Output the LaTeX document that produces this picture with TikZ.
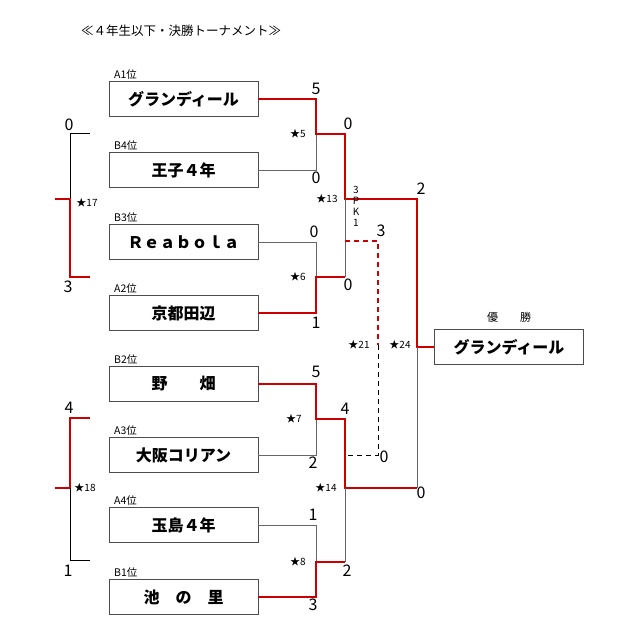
\documentclass[tikz,border=0pt]{standalone}
\usepackage{fontspec}
\setmainfont{Noto Sans CJK JP}
\definecolor{rr}{HTML}{CC0000}
\begin{document}
\begin{tikzpicture}[x=1pt,y=-1pt,
 team/.style={draw=black!70,line width=0.8pt,minimum width=149pt,minimum height=35pt,font=\fontsize{16}{16}\selectfont\bfseries,inner sep=0},
 lab/.style={font=\fontsize{10.5}{10.5}\selectfont,anchor=south west,inner sep=0},
 sc/.style={font=\fontsize{16}{16}\selectfont,inner sep=1pt},
 st/.style={font=\fontsize{10}{10}\selectfont,inner sep=1pt},
 g/.style={draw=black!60,line width=0.7pt},
 b/.style={draw=black,line width=0.7pt},
 r/.style={draw=rr,line width=2.4pt}]
\useasboundingbox (0,0) rectangle (640,640);
\node[font=\fontsize{12.5}{12.5}\selectfont] (title) at (181,31) {≪４年生以下・決勝トーナメント≫};
% boxes
\foreach \n/\t/\l/\y in {t1/グランディール/A1位/99,t2/王子４年/B4位/170,t3/Ｒｅａｂｏｌａ/B3位/242,t4/京都田辺/A2位/313,t5/野　　畑/B2位/384,t6/大阪コリアン/A3位/455,t7/玉島４年/A4位/525,t8/池　の　里/B1位/597}{
 \node[team] (\n) at (183.5,\y) {\t};
 \node[lab] at (114,\y-19) {\l};
}
\node[team] (w) at (509,347) {グランディール};
\node[font=\fontsize{11}{11}\selectfont] (wl) at (509,317) {優　　勝};
% coordinates
\coordinate (a1) at (316,99); \coordinate (a2) at (316,170); \coordinate (am) at (316,134);
\coordinate (b1) at (316,242); \coordinate (b2) at (316,313); \coordinate (bm) at (316,277);
\coordinate (c1) at (316,384); \coordinate (c2) at (316,455); \coordinate (cm) at (316,419);
\coordinate (d1) at (316,525); \coordinate (d2) at (316,597); \coordinate (dm) at (316,562);
% round 1
\draw[g] (t2.east) -- (a2) -- (am);
\draw[r] (t1.east) -- (a1) -- (am) -- (345,134) -- (345,199) -- (417,199) -- (417,347) -- (w.west);
\draw[g] (t3.east) -- (b1) -- (bm);
\draw[r] (t4.east) -- (b2) -- (bm) -- (345,277);
\draw[g] (345,199) -- (345,277);
\draw[g] (t6.east) -- (c2) -- (cm);
\draw[r] (t5.east) -- (c1) -- (cm) -- (345,419) -- (345,488) -- (417,488);
\draw[g] (t7.east) -- (d1) -- (dm);
\draw[r] (t8.east) -- (d2) -- (dm) -- (345,562);
\draw[g] (345,488) -- (345,562);
\draw[g] (417,347) -- (417,488);
% 3rd place dashed
\draw[r,line width=2.2pt,dash pattern=on 5pt off 4pt] (345,241) -- (378,241) -- (378,345);
\draw[b,line width=0.6pt,dash pattern=on 5pt off 4pt] (378,345) -- (378,455) -- (345,455);
% left brackets
\draw[b] (90,133) -- (70,133) -- (70,199);
\draw[r] (55,199) -- (70,199) -- (70,277) -- (90,277);
\draw[r] (90,418) -- (70,418) -- (70,488) -- (55,488);
\draw[b] (70,488) -- (70,560) -- (90,560);
% scores
\foreach \x/\y/\s in {316/89/5,316/178/0,348/124/0,314/232/0,348/285/0,316/323/1,316/372/5,313/463/2,345/409/4,313/515/1,347/571/2,313/605/3,421/189/2,381/231/3,384/457/0,421/493/0,69/125/0,68/287/3,69/408/4,68/571/1}
 \node[sc] at (\x,\y) {\s};
\node[font=\fontsize{10}{11}\selectfont,align=center,inner sep=0] (pk) at (356,206) {3\\P\\K\\1};
% stars
\foreach \x/\y/\s in {298/134/5,327/199/13,298/277/6,294/419/7,326/488/14,298/562/8,87/203/17,85/488/18,359/345/21,400/345/24}
 \node[st] at (\x,\y) {★\s};
\end{tikzpicture}
\end{document}
